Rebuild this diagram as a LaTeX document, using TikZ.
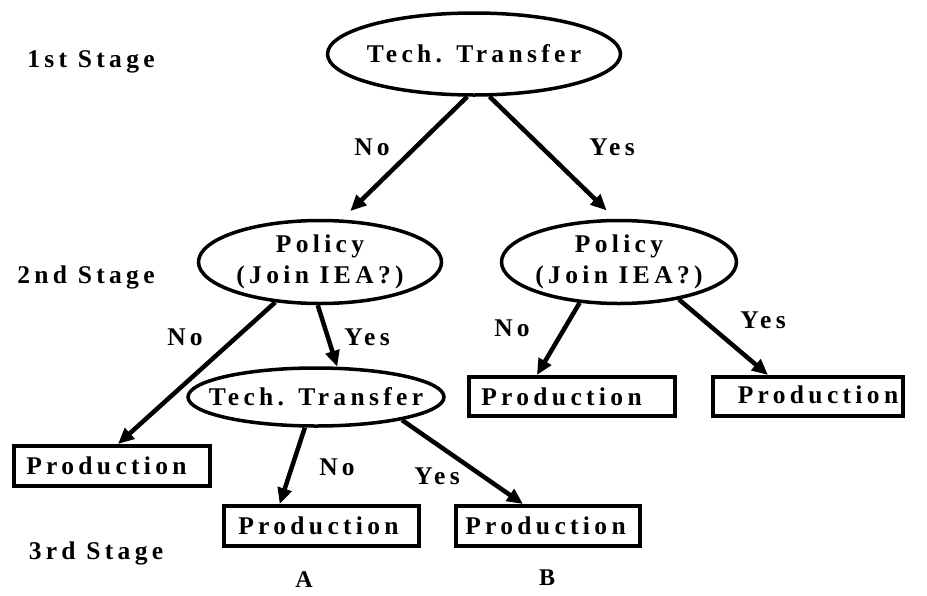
\documentclass[tikz,border=0pt]{standalone}
\usepackage{fontspec}
\setmainfont{Liberation Serif}
\newfontfamily\spacedfont[LetterSpace=17]{Liberation Serif}
\usetikzlibrary{shapes.geometric,arrows.meta,calc}
% zero-width centred text, so the ellipse size is set by its own dimensions
\newcommand{\zw}[1]{\makebox[0pt]{#1}}
% text moved sideways inside its box by half of the first argument
\newcommand{\nudge}[2]{\makebox[0pt]{\hspace*{#1}#2}}
\begin{document}
\begin{tikzpicture}[x=1pt,y=-1pt,
  every node/.style={font=\spacedfont\bfseries\fontsize{25.5}{31}\selectfont},
  decision/.style={ellipse, draw, line width=3.5pt, inner sep=0pt, align=center},
  outcome/.style={rectangle, draw, line width=4pt, inner sep=0pt},
  arr/.style={line width=4.5pt, -{Triangle[length=16pt,width=14pt]}},
  tag/.style={inner sep=0pt},
  letter/.style={inner sep=0pt, font=\bfseries\fontsize{24}{28}\selectfont}
]
\useasboundingbox (0,0) rectangle (927,595);

% decision nodes
\node[decision, minimum width=293pt, minimum height=82pt] (t1) at (474,54) {\zw{Tech. Transfer}};
\node[decision, minimum width=243pt, minimum height=83pt] (p1) at (320,262) {\zw{Policy}\\\zw{(Join IEA?)}};
\node[decision, minimum width=235pt, minimum height=83pt] (p2) at (619,262) {\zw{Policy}\\\zw{(Join IEA?)}};
\node[decision, minimum width=256pt, minimum height=58pt] (t2) at (316,397) {\zw{Tech. Transfer}};

% outcome boxes
\node[outcome, minimum width=196pt, minimum height=40pt] (o1) at (112,466) {\nudge{-11pt}{Production}};
\node[outcome, minimum width=206pt, minimum height=39pt] (o2) at (572,396.5) {\nudge{-21pt}{Production}};
\node[outcome, minimum width=190pt, minimum height=39pt] (o3) at (808,396.5) {\raisebox{4pt}{\nudge{20pt}{Production}}};
\node[outcome, minimum width=195pt, minimum height=40pt] (oA) at (321.5,526) {\nudge{-6pt}{Production}};
\node[outcome, minimum width=184pt, minimum height=40pt] (oB) at (548,526) {\nudge{-5pt}{Production}};

% branches
\draw[arr, shorten >=12pt] (t1.261) -- (p1.63);
\draw[arr, shorten >=12pt] (t1.290) -- (p2.95);
\draw[arr] (p1.222) -- ($(o1.north west)!0.53!(o1.north east)$);
\draw[arr] (p1.267) -- (t2.55);
\draw[arr] (p2.226) -- ($(o2.north west)!0.333!(o2.north east)$);
\draw[arr] (p2.328) -- ($(o3.north west)!0.294!(o3.north east)$);
\draw[arr] (t2.250) -- ($(oA.north west)!0.29!(oA.north east)$);
\draw[arr] (t2.345) -- ($(oB.north west)!0.367!(oB.north east)$);

% branch labels
\node[tag] (n1) at (372,147) {No};
\node[tag] (y1) at (612,147) {Yes};
\node[tag] (n2) at (185,337) {No};
\node[tag] (y2) at (367,337) {Yes};
\node[tag] (n3) at (512,328) {No};
\node[tag] (y3) at (763,320) {Yes};
\node[tag] (n4) at (337,467) {No};
\node[tag] (y4) at (437,476) {Yes};

% stage labels
\node[tag] (s1) at (91,62) {1st Stage};
\node[tag] (s2) at (86,277) {2nd Stage};
\node[tag] (s3) at (96,553) {3rd Stage};

% outcome letters
\node[letter] (la) at (304,580) {A};
\node[letter] (lb) at (547,578) {B};
\end{tikzpicture}
\end{document}
